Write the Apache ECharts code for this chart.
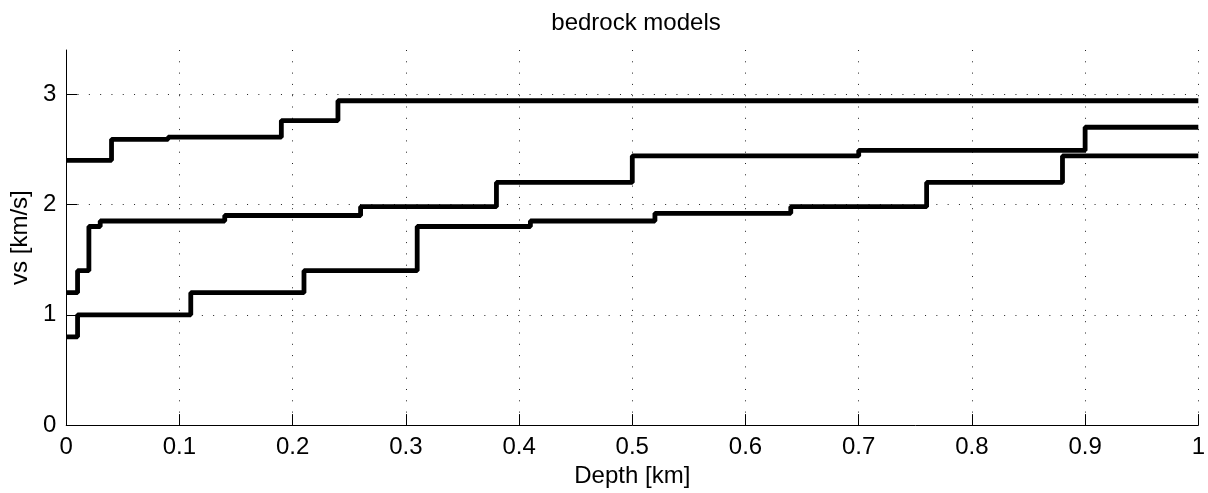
<!DOCTYPE html>
<html>
<head>
<meta charset="utf-8">
<script src="https://cdn.jsdelivr.net/npm/echarts@6/dist/echarts.min.js"></script>
<style>
  html, body { margin: 0; padding: 0; background: #fff; }
  #chart { width: 1208px; height: 493px; }
</style>
</head>
<body>
<div id="chart"></div>
<script>
// Layer tops (km) and shear-wave velocities (km/s) for each bedrock model
const depthA = [0, 0.04, 0.09, 0.19, 0.24];
const vsA    = [2.40, 2.59, 2.61, 2.76, 2.94];

const depthB = [0, 0.01, 0.02, 0.03, 0.14, 0.26, 0.38, 0.50, 0.70, 0.90];
const vsB    = [1.20, 1.40, 1.80, 1.85, 1.90, 1.98, 2.20, 2.44, 2.49, 2.70];

const depthC = [0, 0.01, 0.11, 0.21, 0.31, 0.41, 0.52, 0.64, 0.76, 0.88];
const vsC    = [0.80, 1.00, 1.20, 1.40, 1.80, 1.85, 1.92, 1.98, 2.20, 2.44];

const maxDepth = 1;
const yTicks = [0, 1, 2, 3];

// Each profile is drawn as a staircase: a layer holds its velocity until the next top
function profile(depths, vs) {
  const pts = depths.map((d, i) => [d, vs[i]]);
  pts.push([maxDepth, vs[vs.length - 1]]);
  return pts;
}

const FONT = '"Liberation Sans", Arial, Helvetica, sans-serif';
const gridLine = { show: true, lineStyle: { color: '#222', width: 1, type: [1, 10.3] } };

const lineSeries = (depths, vs) => ({
  type: 'line',
  step: 'end',
  data: profile(depths, vs),
  symbol: 'none',
  lineStyle: { color: '#000', width: 4.8 },
  animation: false
});

const chart = echarts.init(document.getElementById('chart'), null, { renderer: 'canvas' });
chart.setOption({
  backgroundColor: '#fff',
  animation: false,
  title: {
    text: 'bedrock models',
    left: 631,
    textAlign: 'center',
    top: 6,
    textStyle: { fontFamily: FONT, fontSize: 24, fontWeight: 'normal', color: '#000' }
  },
  grid: { left: 63, right: 9, top: 50, bottom: 67, containLabel: false },
  xAxis: {
    type: 'value',
    min: 0,
    max: maxDepth,
    interval: 0.1,
    name: 'Depth [km]',
    nameLocation: 'middle',
    nameGap: 36,
    nameTextStyle: { fontFamily: FONT, fontSize: 24, color: '#000' },
    axisLine: { show: true, lineStyle: { color: '#000', width: 1 } },
    axisTick: { show: true, inside: true, length: 11, lineStyle: { color: '#000', width: 1 } },
    axisLabel: { fontFamily: FONT, fontSize: 24, color: '#000', margin: 10 },
    splitLine: gridLine
  },
  yAxis: {
    type: 'value',
    min: 0,
    max: 3.4,
    name: 'vs [km/s]',
    nameLocation: 'middle',
    nameGap: 24,
    nameTextStyle: { fontFamily: FONT, fontSize: 24, color: '#000' },
    axisLine: { show: true, lineStyle: { color: '#000', width: 1 } },
    axisTick: { show: true, inside: true, length: 11, customValues: yTicks, lineStyle: { color: '#000', width: 1 } },
    axisLabel: { fontFamily: FONT, fontSize: 24, color: '#000', margin: 10, customValues: yTicks },
    splitLine: gridLine
  },
  series: [
    lineSeries(depthA, vsA),
    lineSeries(depthB, vsB),
    lineSeries(depthC, vsC)
  ]
});
</script>
</body>
</html>
